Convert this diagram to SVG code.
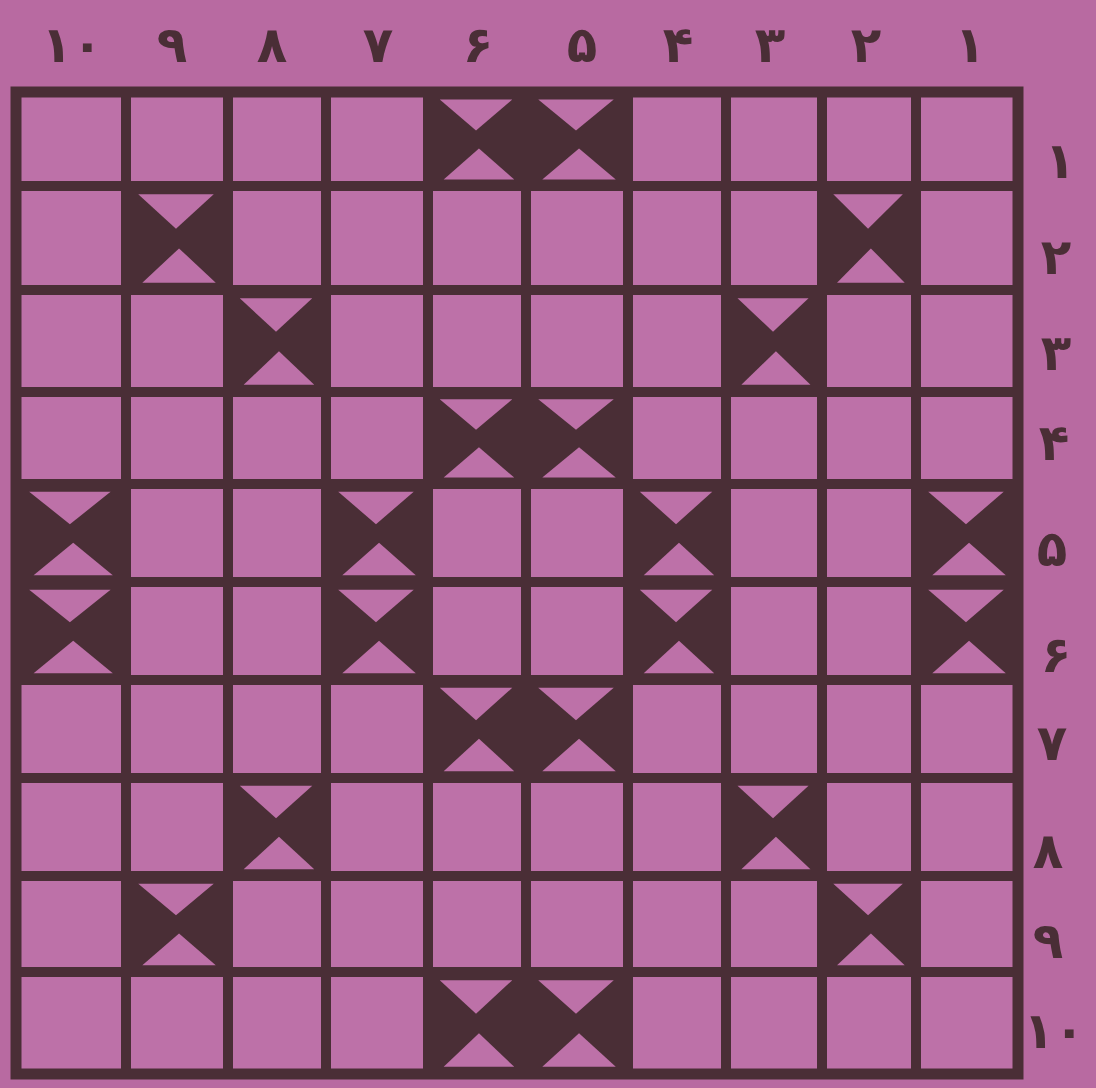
<svg xmlns="http://www.w3.org/2000/svg" width="1096" height="1088" viewBox="0 0 1096 1088">
<style>
.num{font-family:"DejaVu Sans","Noto Sans",sans-serif;font-size:50px;font-weight:bold;fill:#4a2e36;text-anchor:middle}
.ten{letter-spacing:-6px}
.grid{stroke:#4a2e36;stroke-width:10;fill:none;stroke-linecap:square}
.border{stroke:#4a2e36;stroke-width:11;fill:none}
</style>
<defs>
<symbol id="bow" viewBox="0 0 100 100" preserveAspectRatio="none">
<rect x="0" y="0" width="100" height="100" fill="#4a2e36"/>
<polygon points="12,8 86,8 49,41" fill="#bd71a8"/>
<polygon points="16,93 88,93 52,60" fill="#bd71a8"/>
</symbol>
</defs>
<rect width="1096" height="1088" fill="#b86aa1"/>
<rect x="16" y="92" width="1002" height="982" fill="#bd71a8"/>
<g id="cells">
<use href="#bow" x="428" y="92" width="98" height="94"/>
<use href="#bow" x="526" y="92" width="102" height="94"/>
<use href="#bow" x="126" y="186" width="102" height="104"/>
<use href="#bow" x="822" y="186" width="94" height="104"/>
<use href="#bow" x="228" y="290" width="98" height="102"/>
<use href="#bow" x="726" y="290" width="96" height="102"/>
<use href="#bow" x="428" y="392" width="98" height="92"/>
<use href="#bow" x="526" y="392" width="102" height="92"/>
<use href="#bow" x="16" y="484" width="110" height="98"/>
<use href="#bow" x="326" y="484" width="102" height="98"/>
<use href="#bow" x="628" y="484" width="98" height="98"/>
<use href="#bow" x="916" y="484" width="102" height="98"/>
<use href="#bow" x="16" y="582" width="110" height="98"/>
<use href="#bow" x="326" y="582" width="102" height="98"/>
<use href="#bow" x="628" y="582" width="98" height="98"/>
<use href="#bow" x="916" y="582" width="102" height="98"/>
<use href="#bow" x="428" y="680" width="98" height="98"/>
<use href="#bow" x="526" y="680" width="102" height="98"/>
<use href="#bow" x="228" y="778" width="98" height="98"/>
<use href="#bow" x="726" y="778" width="96" height="98"/>
<use href="#bow" x="126" y="876" width="102" height="96"/>
<use href="#bow" x="822" y="876" width="94" height="96"/>
<use href="#bow" x="428" y="972" width="98" height="102"/>
<use href="#bow" x="526" y="972" width="102" height="102"/>
</g>
<g id="gridlines">
<path class="grid" d="M126 92V1074M228 92V1074M326 92V1074M428 92V1074M526 92V1074M628 92V1074M726 92V1074M822 92V1074M916 92V1074"/>
<path class="grid" d="M16 186H1018M16 290H1018M16 392H1018M16 484H1018M16 582H1018M16 680H1018M16 778H1018M16 876H1018M16 972H1018"/>
<rect class="border" x="16" y="92" width="1002" height="982"/>
</g>
<g id="top-labels">
<text class="num ten" x="72" y="62">۱۰</text>
<text class="num" x="172" y="62">۹</text>
<text class="num" x="272" y="62">۸</text>
<text class="num" x="378" y="62">۷</text>
<text class="num" x="478" y="62">۶</text>
<text class="num" x="582" y="62">۵</text>
<text class="num" x="678" y="62">۴</text>
<text class="num" x="770" y="62">۳</text>
<text class="num" x="866" y="62">۲</text>
<text class="num" x="970" y="62">۱</text>
</g>
<g id="right-labels">
<text class="num" x="1060" y="178">۱</text>
<text class="num" x="1056" y="274">۲</text>
<text class="num" x="1056" y="370">۳</text>
<text class="num" x="1054" y="460">۴</text>
<text class="num" x="1052" y="566">۵</text>
<text class="num" x="1056" y="672">۶</text>
<text class="num" x="1052" y="760">۷</text>
<text class="num" x="1048" y="868">۸</text>
<text class="num" x="1048" y="958">۹</text>
<text class="num ten" x="1054" y="1048">۱۰</text>
</g>
</svg>
